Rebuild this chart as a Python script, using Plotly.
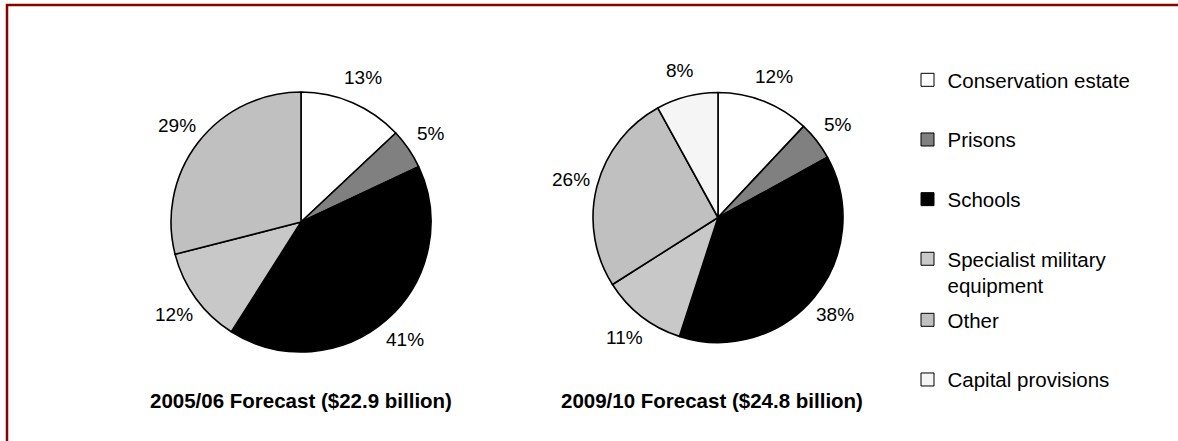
import math
import plotly.graph_objects as go

W, H = 1178, 441

# Spending categories and their fill colours
categories = ["Conservation estate", "Prisons", "Schools",
              "Specialist military<br>equipment", "Other", "Capital provisions"]
colors = ["#FFFFFF", "#808080", "#000000", "#C8C8C8", "#C0C0C0", "#F5F5F5"]

# Share of total (%) per category
share_2005 = [13, 5, 41, 12, 29]        # no capital provisions line in 2005/06
share_2009 = [12, 5, 38, 11, 26, 8]

titles = ["2005/06 Forecast ($22.9 billion)", "2009/10 Forecast ($24.8 billion)"]

FONT = "Liberation Sans, Arial, sans-serif"
LABEL_GAP = 27      # distance of percentage labels beyond the rim, px


def px_x(v):
    return v / W


def px_y(v):
    return 1 - v / H


# Pie placement (pixel boxes: left, right, top, bottom) and title centres
boxes = [(171, 431, 92, 352), (593, 843, 92.5, 342.5)]
title_x = [301, 712]

fig = go.Figure()

for values, (l, r, t, b), title, tx in zip([share_2005, share_2009], boxes, titles, title_x):
    n = len(values)
    fig.add_trace(go.Pie(
        labels=categories[:n],
        values=values,
        textinfo="none",
        marker=dict(colors=colors[:n], line=dict(color="#000000", width=1.6)),
        sort=False,
        direction="clockwise",
        rotation=0,
        hoverinfo="label+percent",
        showlegend=False,
        domain=dict(x=[px_x(l), px_x(r)], y=[px_y(b), px_y(t)]),
    ))

    # Percentage labels placed along each slice's mid-angle
    cx, cy = (l + r) / 2, (t + b) / 2
    radius = min(r - l, b - t) / 2
    total = sum(values)
    cum = 0
    for v in values:
        theta = 2 * math.pi * (cum + v / 2) / total
        cum += v
        lx = cx + (radius + LABEL_GAP) * math.sin(theta)
        ly = cy - (radius + LABEL_GAP) * math.cos(theta)
        fig.add_annotation(
            text=f"{v}%", xref="paper", yref="paper",
            x=px_x(lx), y=px_y(ly), xanchor="center", yanchor="middle",
            showarrow=False,
            font=dict(family=FONT, size=19, color="#000000"),
        )

    fig.add_annotation(
        text=f"<b>{title}</b>", xref="paper", yref="paper",
        x=px_x(tx), y=px_y(400),
        xanchor="center", yanchor="middle", showarrow=False,
        font=dict(family=FONT, size=20.5, color="#000000"),
    )

# Legend entries: one group per category so items can be spaced apart
for i, (name, col) in enumerate(zip(categories, colors)):
    fig.add_trace(go.Scatter(
        x=[None], y=[None], mode="markers", name=name,
        marker=dict(symbol="square", size=13, color=col,
                    line=dict(color="#000000", width=1)),
        legendgroup=f"g{i}",
        legend="legend" if i < 4 else "legend2",
        showlegend=True,
    ))

legend_common = dict(
    font=dict(family=FONT, size=20.5, color="#000000"),
    bgcolor="rgba(0,0,0,0)",
    borderwidth=0,
    xanchor="left",
    yanchor="top",
    valign="top",
    tracegroupgap=30,
    itemclick=False,
    itemdoubleclick=False,
)

# Frame around the chart
fig.add_shape(type="rect", xref="paper", yref="paper",
              x0=px_x(7), x1=1.02, y0=-0.05, y1=px_y(5),
              line=dict(color="#880000", width=2.5), fillcolor="rgba(0,0,0,0)")

fig.update_layout(
    width=W, height=H,
    margin=dict(l=0, r=0, t=0, b=0),
    paper_bgcolor="#FFFFFF",
    plot_bgcolor="#FFFFFF",
    xaxis=dict(visible=False),
    yaxis=dict(visible=False),
    legend=dict(x=px_x(907.5), y=px_y(60), **legend_common),
    legend2=dict(x=px_x(907.5), y=px_y(300), **legend_common),
    font=dict(family=FONT),
)

fig.write_html("out.html")
